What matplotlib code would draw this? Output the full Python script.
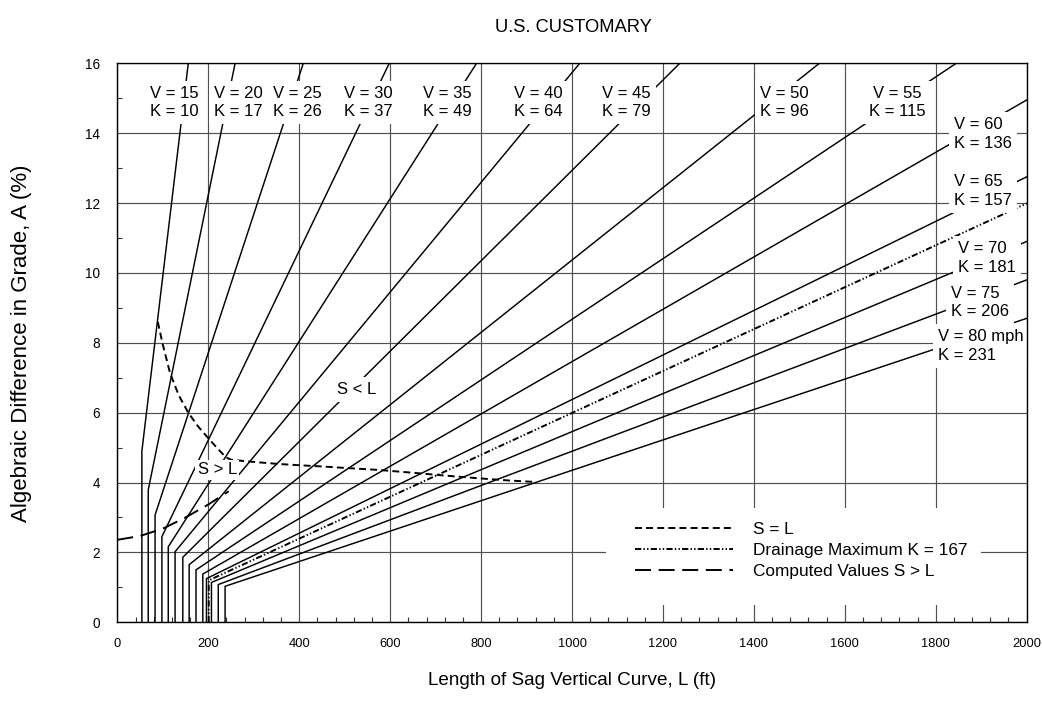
import numpy as np
import matplotlib
matplotlib.use("Agg")
import matplotlib.pyplot as plt
from matplotlib.lines import Line2D
from matplotlib.patches import Rectangle
from matplotlib.ticker import MultipleLocator

plt.rcParams['font.family'] = ['Liberation Sans', 'DejaVu Sans']
plt.rcParams['lines.scale_dashes'] = False

# design speed (mph) and rate of vertical curvature K
speeds = [15, 20, 25, 30, 35, 40, 45, 50, 55, 60, 65, 70, 75, 80]
k_vals = [10, 17, 26, 37, 49, 64, 79, 96, 115, 136, 157, 181, 206, 231]
# minimum length (vertical part) and grade where the sloped part begins
l_min = [54, 68, 83, 98, 112, 127, 144, 158, 173, 188, 196, 207, 222, 237]
a_break = [4.9, 3.79, 3.07, 2.45, 2.16, 2.02, 1.86, 1.65, 1.5, 1.38, 1.25, 1.14, 1.08, 1.03]
# where each line leaves the chart (top edge A=16 or right edge L=2000)
l_end = [156, 259, 409, 598, 790, 1017, 1237, 1544, 1845, 2000, 2000, 2000, 2000, 2000]
a_end = [16, 16, 16, 16, 16, 16, 16, 16, 16, 14.95, 12.75, 10.9, 9.8, 8.7]

# drainage maximum K = 167
drain_L = [201, 201, 2000]
drain_A = [0, 1.2, 11.99]

# S = L boundary
sl_L = [89, 100, 116, 135, 156, 178, 200, 220, 239, 251, 300, 356, 394, 450, 511, 576, 650, 720, 796, 860, 914]
sl_A = [8.6, 7.95, 7.13, 6.5, 6.0, 5.6, 5.27, 4.98, 4.72, 4.65, 4.59, 4.53, 4.5, 4.46, 4.41, 4.36, 4.28, 4.2, 4.12, 4.06, 4.02]

# computed values S > L
comp_L = [0, 50, 100, 150, 200, 245]
comp_A = [2.36, 2.47, 2.68, 3.0, 3.37, 3.75]

# label anchor points (L, A)
top_lab_L = [126, 267, 397, 553, 726, 925, 1120, 1467, 1716]
top_lab_A = 14.88
side_lab_L = [1841, 1841, 1850, 1833, 1805]
side_lab_A = [13.98, 12.35, 10.42, 9.15, 7.9]

fig = plt.figure(figsize=(10.42, 7.17), dpi=100)
ax = fig.add_axes([0.1126, 0.1321, 0.8727, 0.7796])
ax.set_xlim(0, 2000)
ax.set_ylim(0, 16)

# grid
ax.set_axisbelow(True)
ax.xaxis.set_major_locator(MultipleLocator(200))
ax.xaxis.set_minor_locator(MultipleLocator(40))
ax.yaxis.set_major_locator(MultipleLocator(2))
ax.yaxis.set_minor_locator(MultipleLocator(1))
ax.grid(True, which='major', color='#505050', linewidth=0.85)
ax.tick_params(which='both', direction='in', top=False, right=False)
ax.tick_params(which='major', length=0)
ax.tick_params(which='minor', length=3.5, width=0.8, color='#333333')
ax.tick_params(axis='x', labelsize=9.3, pad=11)
ax.tick_params(axis='y', labelsize=9.8, pad=12.5)
for s in ax.spines.values():
    s.set_linewidth(1.0)
    s.set_zorder(5)

# white area behind the legend
ax.add_patch(Rectangle((1075, 0.5), 825, 2.76, facecolor='white', edgecolor='none', zorder=1))

dash_sl = (0, (5, 3))
dash_drain = (0, (4.5, 1.6, 1.0, 1.6, 1.0, 1.6))
dash_comp = (0, (11.5, 5.5))

for i in range(len(k_vals)):
    ax.plot([l_min[i], l_min[i], l_end[i]], [0, a_break[i], a_end[i]],
            color='black', lw=1.05, zorder=2, solid_joinstyle='miter')

ax.plot(drain_L, drain_A, color='black', lw=1.4, linestyle=dash_drain, zorder=2)
ax.plot(sl_L, sl_A, color='black', lw=1.4, linestyle=dash_sl, zorder=2)
ax.plot(comp_L, comp_A, color='black', lw=1.4, linestyle=dash_comp, zorder=2)

box = dict(boxstyle='square,pad=0.3', facecolor='white', edgecolor='none')
for i in range(9):
    ax.text(top_lab_L[i], top_lab_A, 'V = %d\nK = %d' % (speeds[i], k_vals[i]),
            ha='center', va='center', fontsize=12, linespacing=1.3, bbox=box, zorder=3)
for j in range(5):
    i = 9 + j
    vtxt = 'V = %d' % speeds[i] + (' mph' if speeds[i] == 80 else '')
    ax.text(side_lab_L[j], side_lab_A[j], vtxt + '\nK = %d' % k_vals[i],
            ha='left', va='center', fontsize=12, linespacing=1.3, bbox=box, zorder=3)

ax.text(526, 6.65, 'S < L', ha='center', va='center', fontsize=12, bbox=box, zorder=3)
ax.text(220, 4.36, 'S > L', ha='center', va='center', fontsize=12,
        bbox=dict(boxstyle='square,pad=0.15', facecolor='white', edgecolor='none'), zorder=3)

handles = [Line2D([], [], color='black', lw=1.4, linestyle=dash_sl),
           Line2D([], [], color='black', lw=1.4, linestyle=dash_drain),
           Line2D([], [], color='black', lw=1.4, linestyle=dash_comp)]
labels = ['S = L', 'Drainage Maximum K = 167', 'Computed Values S > L']
ax.legend(handles, labels, loc='upper left', bbox_to_anchor=(1138, 2.88),
          bbox_transform=ax.transData, frameon=False, fontsize=12.4,
          handlelength=5.7, handletextpad=1.15, labelspacing=0.36,
          borderpad=0, borderaxespad=0)

fig.text(0.55, 0.962, 'U.S. CUSTOMARY', ha='center', va='center', fontsize=13.2)
ax.set_xlabel('Length of Sag Vertical Curve, L (ft)', fontsize=13.6)
ax.xaxis.set_label_coords(0.5, -0.105)
ax.xaxis.label.set_va('center')
ax.set_ylabel('Algebraic Difference in Grade, A (%)', fontsize=16)
ax.yaxis.set_label_coords(-0.105, 0.5)
ax.yaxis.label.set_va('center')

fig.savefig('out.png', dpi=100)
